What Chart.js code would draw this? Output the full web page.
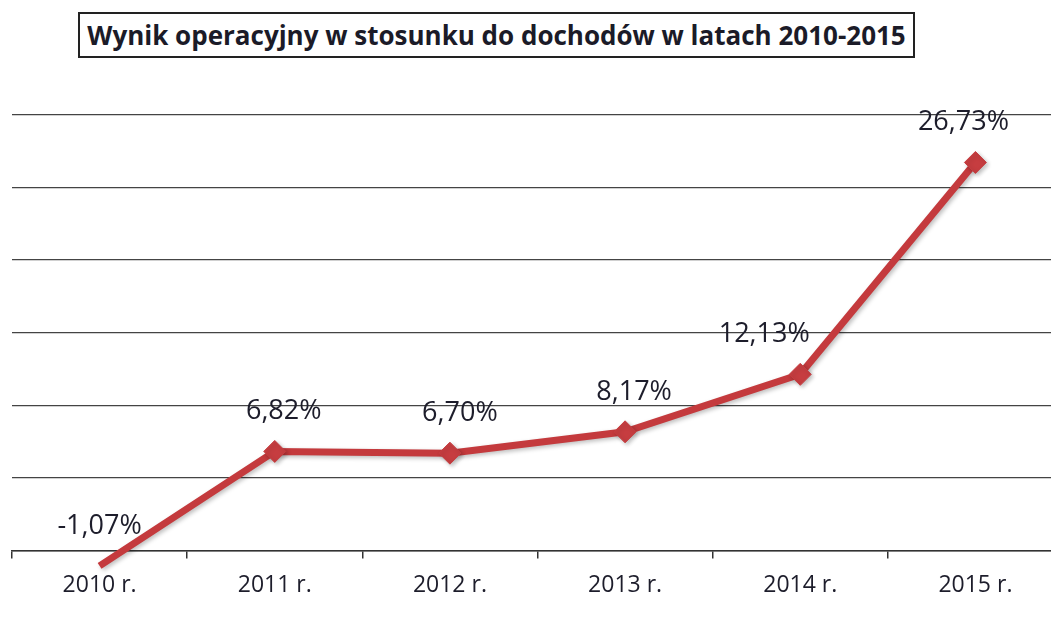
<!DOCTYPE html>
<html>
<head>
<meta charset="utf-8">
<script src="https://cdn.jsdelivr.net/npm/chart.js@4"></script>
<style>
  html, body { margin: 0; padding: 0; background: #fff; overflow: hidden; }
  #wrap { position: absolute; left: 0; top: 0; width: 1080px; height: 617px; }
  #tytul {
    position: absolute; left: 78px; top: 12px; width: 833px; height: 42px;
    border: 2px solid #222; background: #fff;
    font-family: "Open Sans", sans-serif; font-weight: bold; font-size: 26px;
    line-height: 42px; text-align: center; color: #1b1b28; z-index: 2;
  }
</style>
</head>
<body>
<div id="wrap"><canvas id="wykres" width="1080" height="617"></canvas></div>
<div id="tytul">Wynik operacyjny w stosunku do dochodów w latach 2010-2015</div>
<script>
// dane
const lata = ['2010 r.', '2011 r.', '2012 r.', '2013 r.', '2014 r.', '2015 r.'];
const wynik = [-1.07, 6.82, 6.70, 8.17, 12.13, 26.73];
const osY = [0, 5, 10, 15, 20, 25, 30];

// etykiety danych nad punktami (format z przecinkiem)
const etykiety = {
    id: 'etykiety',
    afterDatasetsDraw(chart, args, opts) {
        const ctx = chart.ctx;
        const meta = chart.getDatasetMeta(0);
        ctx.save();
        ctx.font = '27px "Open Sans", sans-serif';
        ctx.fillStyle = '#1d1d2b';
        ctx.textAlign = 'center';
        ctx.textBaseline = 'middle';
        meta.data.forEach((pt, i) => {
            const txt = wynik[i].toFixed(2).replace('.', ',') + '%';
            const dx = opts.przesuniecie[i] || 0;
            ctx.fillText(txt, pt.x + dx, pt.y - 40);
        });
        ctx.restore();
    }
};

// lekki cien pod linia
const cien = {
    id: 'cien',
    beforeDatasetsDraw(chart) {
        chart.ctx.save();
        chart.ctx.shadowColor = 'rgba(0,0,0,0.25)';
        chart.ctx.shadowBlur = 4;
        chart.ctx.shadowOffsetX = 2;
        chart.ctx.shadowOffsetY = 2;
    },
    afterDatasetsDraw(chart) {
        chart.ctx.restore();
    }
};

new Chart(document.getElementById('wykres'), {
    type: 'line',
    data: {
        labels: lata,
        datasets: [{
            data: wynik,
            borderColor: '#c43a3d',
            borderWidth: 7,
            pointStyle: 'rectRot',
            pointRadius: 11,
            pointBackgroundColor: '#c63d40',
            pointBorderColor: '#c63d40',
            pointBorderWidth: 1,
            tension: 0,
            clip: false
        }]
    },
    options: {
        responsive: false,
        animation: false,
        events: [],
        layout: { padding: { left: 10, right: 17, top: 115, bottom: 5 } },
        plugins: {
            legend: { display: false },
            tooltip: { enabled: false },
            etykiety: { przesuniecie: [0, 9, 10, 9, -36, -12] }
        },
        scales: {
            x: {
                offset: true,
                grid: {
                    offset: true,
                    drawOnChartArea: false,
                    drawTicks: true,
                    tickLength: 8,
                    color: '#333',
                    lineWidth: 1.5
                },
                border: { display: true, color: '#333', width: 1.5 },
                ticks: {
                    padding: 13,
                    color: '#1d1d2b',
                    font: { family: 'Open Sans', size: 23 }
                }
            },
            y: {
                min: osY[0],
                max: osY[osY.length - 1],
                afterBuildTicks(axis) { axis.ticks = osY.map(v => ({ value: v })); },
                ticks: { display: false },
                grid: { color: '#444', lineWidth: 1.3, drawTicks: false },
                border: { display: false }
            }
        }
    },
    plugins: [cien, etykiety]
});
</script>
</body>
</html>
